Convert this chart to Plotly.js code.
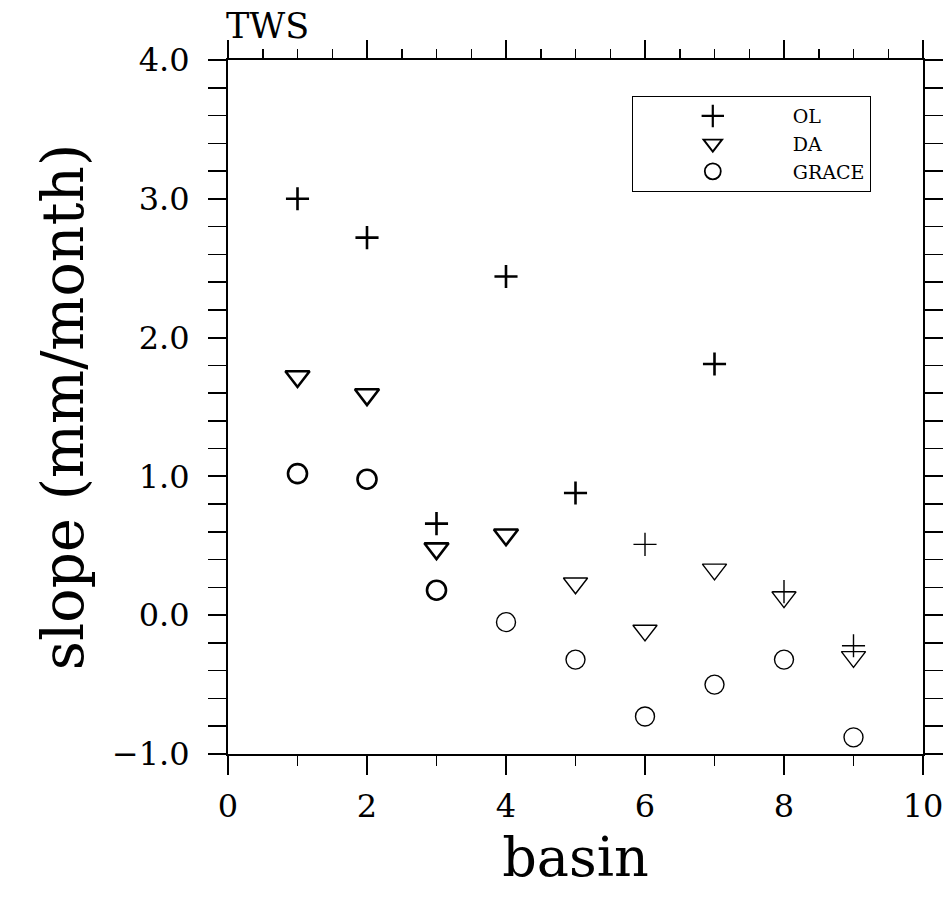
<!DOCTYPE html>
<html>
<head>
<meta charset="utf-8">
<script src="https://cdn.plot.ly/plotly-3.0.1.min.js"></script>
<style>
html,body{margin:0;padding:0;background:#fff;}
#chart{width:950px;height:909px;}
</style>
</head>
<body>
<div id="chart"></div>
<script>
// ---- data ----
var basin = [1, 2, 3, 4, 5, 6, 7, 8, 9];
var olSlope = [3.00, 2.72, 0.66, 2.44, 0.88, 0.51, 1.81, 0.17, -0.22];
var daSlope = [1.72, 1.59, 0.48, 0.58, 0.23, -0.11, 0.33, 0.13, -0.30];
var graceSlope = [1.02, 0.98, 0.18, -0.05, -0.32, -0.73, -0.50, -0.32, -0.88];
var seriesNames = ['OL', 'DA', 'GRACE'];
var xTickVals = [0, 2, 4, 6, 8, 10];
var yTickVals = [-1, 0, 1, 2, 3, 4];

// ---- style ----
var FONT = 'DejaVu Serif, Liberation Serif, serif';
var olWidths = [2.6, 2.6, 2.6, 2.6, 2.6, 1.4, 2.6, 1.4, 1.4];
var daWidths = [2.6, 2.6, 2.6, 2.6, 1.4, 1.4, 1.4, 1.4, 1.4];
var grWidths = [2.6, 2.6, 2.6, 1.4, 1.4, 1.4, 1.4, 1.4, 1.4];

var traces = [
  {x: basin, y: olSlope, name: seriesNames[0], type: 'scatter', mode: 'markers',
   marker: {symbol: 'cross-thin-open', size: 16.5, color: 'black',
            line: {color: 'black', width: olWidths}}},
  {x: basin, y: daSlope, name: seriesNames[1], type: 'scatter', mode: 'markers',
   marker: {symbol: 'triangle-down-open', size: 21, color: 'black',
            line: {color: 'black', width: daWidths}}},
  {x: basin, y: graceSlope, name: seriesNames[2], type: 'scatter', mode: 'markers',
   marker: {symbol: 'circle-open', size: 19, color: 'black',
            line: {color: 'black', width: grWidths}}},
  // carrier for the top axis (no points)
  {x: [], y: [], xaxis: 'x2', yaxis: 'y', type: 'scatter', mode: 'markers',
   showlegend: false, hoverinfo: 'skip'}
];

var layout = {
  width: 950, height: 909,
  margin: {l: 228, r: 27, t: 60, b: 155},
  paper_bgcolor: 'white', plot_bgcolor: 'white',
  font: {family: FONT, color: 'black'},
  showlegend: true,
  legend: {
    x: 0.581, y: 0.948, xanchor: 'left', yanchor: 'top',
    bordercolor: 'black', borderwidth: 1, bgcolor: 'white',
    font: {family: FONT, size: 19, color: 'black'},
    itemwidth: 150, tracegroupgap: 0
  },
  xaxis: {
    range: [0, 10], tickvals: xTickVals, ticktext: xTickVals.map(String),
    ticks: 'outside', ticklen: 19, tickwidth: 2, tickcolor: 'black',
    minor: {dtick: 1, tick0: 0, ticks: 'outside', ticklen: 10, tickwidth: 1.5, tickcolor: 'black'},
    showline: true, linecolor: 'black', linewidth: 2, mirror: false,
    showgrid: false, zeroline: false,
    tickfont: {family: FONT, size: 32, color: 'black'},
    ticklabelstandoff: 4,
    title: {text: 'basin', font: {family: FONT, size: 54, color: 'black'}, standoff: 14}
  },
  xaxis2: {
    overlaying: 'x', side: 'top', anchor: 'y', range: [0, 10],
    dtick: 2, tick0: 0, showticklabels: false,
    ticks: 'outside', ticklen: 18, tickwidth: 2, tickcolor: 'black',
    minor: {dtick: 0.5, tick0: 0, ticks: 'outside', ticklen: 9, tickwidth: 1.5, tickcolor: 'black'},
    showline: true, linecolor: 'black', linewidth: 2,
    showgrid: false, zeroline: false
  },
  yaxis: {
    range: [-1, 4], tickvals: yTickVals, tickformat: '.1f',
    ticks: 'outside', ticklen: 18, tickwidth: 2, tickcolor: 'black',
    minor: {dtick: 0.2, tick0: 0, ticks: 'outside', ticklen: 10, tickwidth: 1.5, tickcolor: 'black'},
    showline: true, linecolor: 'black', linewidth: 2, mirror: 'allticks',
    showgrid: false, zeroline: false,
    tickfont: {family: FONT, size: 32, color: 'black'},
    ticklabelstandoff: 12,
    title: {text: 'slope (mm/month)', font: {family: FONT, size: 57, color: 'black'}, standoff: 10}
  },
  annotations: [
    {text: 'TWS', xref: 'paper', yref: 'paper', x: 0, y: 1, xanchor: 'left', yanchor: 'bottom',
     xshift: -4, yshift: 12, showarrow: false, font: {family: FONT, size: 35, color: 'black'}}
  ]
};

Plotly.newPlot('chart', traces, layout, {displayModeBar: false, staticPlot: true});
</script>
</body>
</html>
